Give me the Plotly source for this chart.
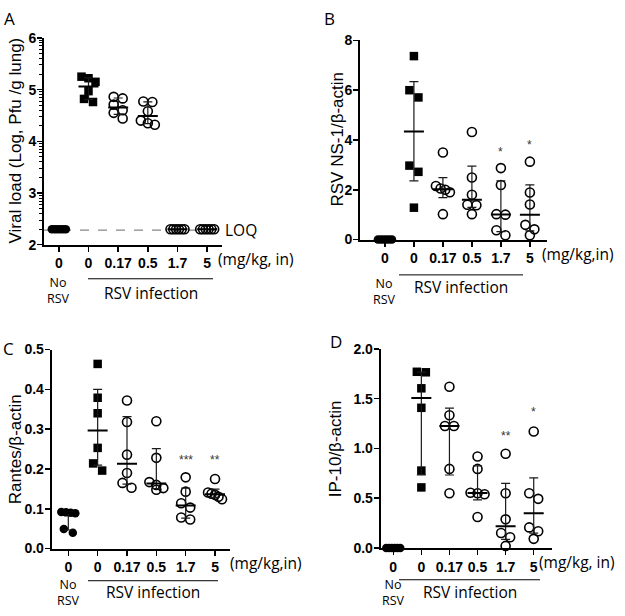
import numpy as np
import plotly.graph_objects as go

# ---------------- data ----------------
x_tick_labels = ["0", "0", "0.17", "0.5", "1.7", "5"]
group_symbols = ["circle", "square", "circle-open", "circle-open", "circle-open", "circle-open"]

# A: viral load (log Pfu / g lung)
A_viral = [
    [2.30, 2.30, 2.30, 2.30, 2.30, 2.30],
    [5.25, 5.22, 5.15, 4.97, 4.82, 4.76],
    [4.86, 4.83, 4.71, 4.60, 4.55, 4.44],
    [4.77, 4.76, 4.58, 4.40, 4.35, 4.32],
    [2.30, 2.30, 2.30, 2.30, 2.30, 2.30],
    [2.30, 2.30, 2.30, 2.30, 2.30, 2.30],
]
A_loq = 2.28

# B: RSV NS-1 / beta-actin
B_ns1 = [
    [0.0, 0.0, 0.0, 0.0, 0.0, 0.0],
    [7.37, 6.00, 5.71, 2.97, 2.72, 1.28],
    [3.50, 2.15, 2.05, 2.00, 1.90, 1.02],
    [4.32, 2.49, 1.80, 1.40, 1.38, 1.02],
    [2.87, 2.19, 1.02, 1.00, 0.37, 0.17],
    [3.13, 1.89, 1.41, 0.59, 0.41, 0.17],
]
B_sig = ["", "", "", "", "*", "*"]

# C: Rantes / beta-actin
C_rantes = [
    [0.092, 0.091, 0.090, 0.089, 0.049, 0.040],
    [0.464, 0.379, 0.340, 0.253, 0.214, 0.196],
    [0.372, 0.318, 0.236, 0.190, 0.165, 0.153],
    [0.320, 0.228, 0.167, 0.160, 0.152, 0.148],
    [0.179, 0.143, 0.114, 0.103, 0.078, 0.073],
    [0.175, 0.141, 0.138, 0.135, 0.130, 0.124],
]
C_sig = ["", "", "", "", "***", "**"]

# D: IP-10 / beta-actin
D_ip10 = [
    [0.0, 0.0, 0.0, 0.0, 0.0, 0.0],
    [1.770, 1.765, 1.604, 1.408, 0.777, 0.608],
    [1.620, 1.333, 1.225, 1.225, 0.794, 0.549],
    [0.918, 0.794, 0.555, 0.550, 0.540, 0.310],
    [0.947, 0.549, 0.287, 0.150, 0.107, 0.020],
    [1.170, 0.549, 0.493, 0.206, 0.167, 0.091],
]
D_sig = ["", "", "", "", "**", "*"]

# ---------------- layout helpers ----------------
W, H = 625, 616
def fx(px):
    return px / W
def fy(py):
    return 1 - py / H

TICK_FONT = dict(family="Liberation Sans, Arial, sans-serif", size=14, color="black")
TITLE_FONT = "Liberation Sans, Arial, sans-serif"
NOTE_FONT = "Open Sans, Liberation Sans, sans-serif"

panels = [
    dict(letter="A", data=A_viral, sig=None, sig_y=None,
         xpx=(44, 222), ypx=(30.7, 243), yr=(2, 6), xr=(-0.5, 5.5), dtick=1, fmt="{:.0f}",
         ytitle="Viral load (Log, Pfu /g lung)", ytitle_pos=(15.5, 136.5),
         letter_pos=(9, 11), unit="(mg/kg, in)", unit_pos=(216, 258),
         no_y=290, line=(88, 213, 278), inf_y=293),
    dict(letter="B", data=B_ns1, sig=B_sig, sig_y=[0, 0, 0, 0, 3.63, 3.93],
         xpx=(360, 546.7), ypx=(33.3, 237.7), yr=(0, 8), xr=(-0.86, 5.58), dtick=2, fmt="{:.0f}",
         ytitle="RSV NS-1/β-actin", ytitle_pos=(337, 135),
         letter_pos=(329, 11), unit="(mg/kg,in)", unit_pos=(540, 253),
         no_y=291, line=(399, 523, 274), inf_y=286),
    dict(letter="C", data=C_rantes, sig=C_sig, sig_y=[0, 0, 0, 0, 0.23, 0.23],
         xpx=(51.7, 230), ypx=(350.7, 555), yr=(0, 0.5), xr=(-0.566, 5.51), dtick=0.1, fmt="{:.1f}",
         ytitle="Rantes/β-actin", ytitle_pos=(15, 453),
         letter_pos=(8, 350), unit="(mg/kg,in)", unit_pos=(228, 570),
         no_y=600, line=(88, 218, 588), inf_y=600),
    dict(letter="D", data=D_ip10, sig=D_sig, sig_y=[0, 0, 0, 0, 1.153, 1.40],
         xpx=(380.7, 551.7), ypx=(350, 554.3), yr=(0, 2), xr=(-0.447, 5.64), dtick=0.5, fmt="{:.1f}",
         ytitle="IP-10/β-actin", ytitle_pos=(335, 453),
         letter_pos=(336, 342), unit="(mg/kg, in)", unit_pos=(537, 569),
         no_y=600, line=(399, 540, 587), inf_y=600),
]


def swarm_offsets(vals, px_per_unit, thr=7.6, max_w=14.0, max_sp=9.0):
    """Spread points of similar value symmetrically (pixel offsets)."""
    order = sorted(range(len(vals)), key=lambda k: -vals[k])
    offs = [0.0] * len(vals)
    rows, cur = [], []
    for k in order:
        if cur and (vals[cur[0]] - vals[k]) * px_per_unit > thr:
            rows.append(cur)
            cur = []
        cur.append(k)
    rows.append(cur)
    for row in rows:
        n = len(row)
        if n > 1:
            sp = min(max_sp, max_w / (n - 1))
            for j, k in enumerate(row):
                offs[k] = (j - (n - 1) / 2) * sp
    return offs


fig = go.Figure()
annotations = []
shapes = []
layout_axes = {}

for i, p in enumerate(panels):
    sfx = "" if i == 0 else str(i + 1)
    xref, yref = "x" + sfx, "y" + sfx
    x0, x1 = p["xpx"]
    ytop, ybot = p["ypx"]
    px_per_cat = (x1 - x0) / (p["xr"][1] - p["xr"][0])
    px_per_unit = (ybot - ytop) / (p["yr"][1] - p["yr"][0])

    # points
    for g, vals in enumerate(p["data"]):
        offs = swarm_offsets(vals, px_per_unit)
        xs = [g + o / px_per_cat for o in offs]
        sym = group_symbols[g]
        if sym == "circle-open":
            marker = dict(symbol=sym, size=9, color="black", line=dict(width=1.6, color="black"))
        elif sym == "square":
            marker = dict(symbol=sym, size=8.5, color="black", line=dict(width=0))
        else:
            marker = dict(symbol=sym, size=8.5, color="black", line=dict(width=0))
        fig.add_trace(go.Scatter(x=xs, y=vals, mode="markers", marker=marker,
                                 xaxis=xref, yaxis=yref, cliponaxis=False,
                                 hoverinfo="y", showlegend=False))

    # median + interquartile range
    cap = 4.5 / px_per_cat
    half = 10.0 / px_per_cat
    ex, ey, mx, my = [], [], [], []
    for g, vals in enumerate(p["data"]):
        q1, med, q3 = np.percentile(vals, [25, 50, 75], method="weibull")
        if q3 - q1 > 1e-9:
            ex += [g, g, None, g - cap, g + cap, None, g - cap, g + cap, None]
            ey += [q1, q3, None, q1, q1, None, q3, q3, None]
        mx += [g - half, g + half, None]
        my += [med, med, None]
    fig.add_trace(go.Scatter(x=ex, y=ey, mode="lines", line=dict(color="#1a1a1a", width=1.2),
                             xaxis=xref, yaxis=yref, cliponaxis=False, hoverinfo="skip", showlegend=False))
    fig.add_trace(go.Scatter(x=mx, y=my, mode="lines", line=dict(color="black", width=2),
                             xaxis=xref, yaxis=yref, cliponaxis=False, hoverinfo="skip", showlegend=False))

    # axes
    n_ticks = int(round((p["yr"][1] - p["yr"][0]) / p["dtick"])) + 1
    ytv = [p["yr"][0] + k * p["dtick"] for k in range(n_ticks)]
    ytt = ["<b>" + p["fmt"].format(v) + "</b>" for v in ytv]
    yaxis = dict(domain=[fy(ybot), fy(ytop)], range=list(p["yr"]), anchor=xref,
                 showline=True, linecolor="black", linewidth=2, ticks="outside",
                 ticklen=5, tickwidth=1.5, tickcolor="black", tickmode="array",
                 tickvals=ytv, ticktext=ytt, showgrid=False, zeroline=False,
                 tickfont=TICK_FONT, ticklabelstandoff=-2, fixedrange=True)
    if p["letter"] == "A":
        minor_vals = [u + np.log10(k) for u in range(2, 6) for k in range(2, 10)]
        yaxis["minor"] = dict(tickmode="array", tickvals=minor_vals, ticks="outside",
                              ticklen=3, tickwidth=1, tickcolor="black", showgrid=False)
    xaxis = dict(domain=[fx(x0), fx(x1)], range=list(p["xr"]), anchor=yref,
                 showline=True, linecolor="black", linewidth=2, ticks="outside",
                 ticklen=5, tickwidth=1.5, tickcolor="black", tickmode="array",
                 tickvals=list(range(6)), ticktext=["<b>" + t + "</b>" for t in x_tick_labels],
                 showgrid=False, zeroline=False, tickfont=TICK_FONT, fixedrange=True)
    layout_axes["xaxis" + sfx] = xaxis
    layout_axes["yaxis" + sfx] = yaxis

    # significance marks
    if p["sig"]:
        for g, (s, yv) in enumerate(zip(p["sig"], p["sig_y"])):
            if s:
                annotations.append(dict(x=g, y=yv, xref=xref, yref=yref, text=s, showarrow=False,
                                        yshift=-3, font=dict(family=TITLE_FONT, size=12, color="#333")))

    # panel letter
    lx, ly = p["letter_pos"]
    annotations.append(dict(x=fx(lx), y=fy(ly), xref="paper", yref="paper", text=p["letter"],
                            showarrow=False, xanchor="center", yanchor="middle",
                            font=dict(family=NOTE_FONT, size=17, color="black")))
    # y title
    tx, ty = p["ytitle_pos"]
    annotations.append(dict(x=fx(tx), y=fy(ty), xref="paper", yref="paper", text=p["ytitle"],
                            showarrow=False, textangle=-90, xanchor="center", yanchor="middle",
                            font=dict(family=TITLE_FONT, size=17, color="black")))
    # unit label
    ux, uy = p["unit_pos"]
    annotations.append(dict(x=fx(ux), y=fy(uy), xref="paper", yref="paper", text=p["unit"],
                            showarrow=False, xanchor="left", yanchor="middle",
                            font=dict(family=NOTE_FONT, size=15.5, color="black")))
    # No RSV
    no_x = x0 + (0 - p["xr"][0]) * px_per_cat
    annotations.append(dict(x=fx(no_x), y=fy(p["no_y"]), xref="paper", yref="paper", text="No<br>RSV",
                            showarrow=False, xanchor="center", yanchor="middle", borderpad=0,
                            font=dict(family=NOTE_FONT, size=12.5, color="black")))
    # RSV infection bracket
    la, lb, lyy = p["line"]
    shapes.append(dict(type="line", xref="paper", yref="paper", x0=fx(la), x1=fx(lb),
                       y0=fy(lyy), y1=fy(lyy), line=dict(color="black", width=1)))
    annotations.append(dict(x=fx((la + lb) / 2), y=fy(p["inf_y"]), xref="paper", yref="paper",
                            text="RSV infection", showarrow=False, xanchor="center", yanchor="middle",
                            font=dict(family=NOTE_FONT, size=15.5, color="black")))

# LOQ line in panel A
shapes.append(dict(type="line", xref="paper", yref="y", x0=fx(44), x1=fx(220), y0=A_loq, y1=A_loq,
                   line=dict(color="#888", width=1.2, dash="dash"), layer="below"))
annotations.append(dict(x=fx(223), y=A_loq, xref="paper", yref="y", text="LOQ", showarrow=False,
                        xanchor="left", yanchor="middle",
                        font=dict(family=NOTE_FONT, size=15.5, color="black")))

fig.update_layout(width=W, height=H, margin=dict(l=0, r=0, t=0, b=0),
                  paper_bgcolor="white", plot_bgcolor="white", showlegend=False,
                  annotations=annotations, shapes=shapes, **layout_axes)

fig.write_html("out.html", config={"displayModeBar": False, "staticPlot": True},
               post_script="document.body.style.margin='0';document.body.style.padding='0';"
                           "document.body.style.overflow='hidden';")
